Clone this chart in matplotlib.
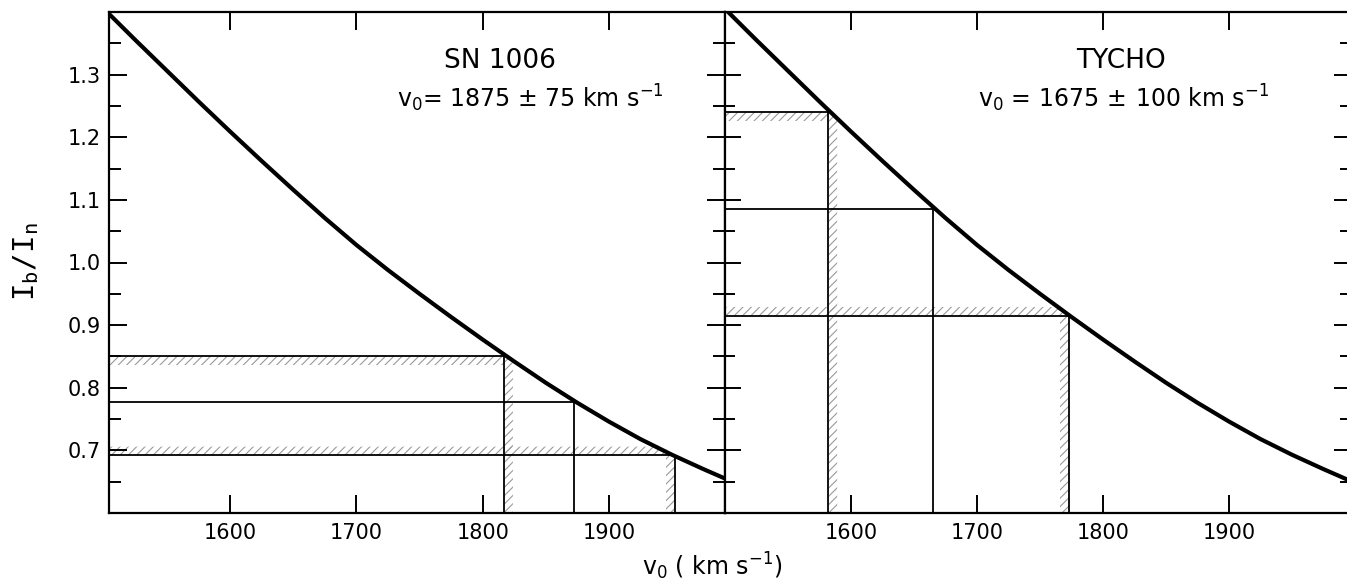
import numpy as np
import matplotlib
matplotlib.use("Agg")
import matplotlib.pyplot as plt
from matplotlib.ticker import FixedLocator, FormatStrFormatter

# ---------------- data ----------------
v_grid = [1500, 1525, 1550, 1575, 1600, 1625, 1650, 1675, 1700, 1725, 1750,
          1775, 1800, 1825, 1850, 1875, 1900, 1925, 1950, 1975, 2000]
ratio = [1.405, 1.355, 1.306, 1.257, 1.209, 1.162, 1.116, 1.071, 1.028, 0.988, 0.950,
         0.913, 0.877, 0.842, 0.808, 0.776, 0.746, 0.718, 0.693, 0.670, 0.648]

# SN 1006 : v0 = 1875 +/- 75  (low, central, high velocity and matching ratios)
sn_v = [1817, 1872, 1952]
sn_r = [0.851, 0.777, 0.692]
# TYCHO : v0 = 1675 +/- 100
ty_v = [1582, 1665, 1773]
ty_r = [1.240, 1.085, 0.915]

x_major = [1600, 1700, 1800, 1900]
y_major = [0.7, 0.8, 0.9, 1.0, 1.1, 1.2, 1.3]
y_minor = [0.65, 0.75, 0.85, 0.95, 1.05, 1.15, 1.25, 1.35]

panel_titles = ["SN 1006", "TYCHO"]
panel_subs = [r"v$_{\mathregular{0}}$= 1875 $\pm$ 75 km s$^{\mathregular{-1}}$",
              r"v$_{\mathregular{0}}$ = 1675$\,\pm\,$100 km s$^{\mathregular{-1}}$"]

# ---------------- style ----------------
plt.rcParams["font.family"] = ["DejaVu Sans"]
plt.rcParams["mathtext.fontset"] = "dejavusans"
plt.rcParams["hatch.linewidth"] = 0.8

W, H = 1347, 581
fig = plt.figure(figsize=(W / 100, H / 100), dpi=100)

def fx(px):
    return px / W

def fy(py):
    return (H - py) / H

ax1 = fig.add_axes([fx(109), fy(513), fx(725) - fx(109), fy(12) - fy(513)])
ax2 = fig.add_axes([fx(725), fy(513), fx(1350) - fx(725), fy(12) - fy(513)])

YMIN, YMAX = 0.6, 1.4
xlims = [(1504, 1992), (1500, 1996)]
DX, DY = 7, 0.014
HATCH_C = "#9a9a9a"

def hatch_region(ax, xs, y0, y1):
    ax.fill_between(xs, y0, y1, facecolor="none", edgecolor=HATCH_C,
                    hatch="////", linewidth=0, zorder=1)

panels = [
    (ax1, xlims[0], sn_v, sn_r, panel_titles[0], panel_subs[0], 1838, 13, 8.5),
    (ax2, xlims[1], ty_v, ty_r, panel_titles[1], panel_subs[1], 1816, 11.5, 7),
]
for ax, (xl, xr), vv, rr, title, sub, sub_x, major_len, minor_len in panels:
    ax.set_xlim(xl, xr)
    ax.set_ylim(YMIN, YMAX)

    # curve
    ax.plot(v_grid, ratio, color="black", lw=3.0, solid_capstyle="butt", zorder=4)

    v_lo, v_mid, v_hi = vv
    r_lo, r_mid, r_hi = rr

    # hatched uncertainty strips
    xs = np.linspace(xl, v_lo, 50)
    hatch_region(ax, xs, r_lo - DY, r_lo)
    xs = np.linspace(v_lo, v_lo + DX, 20)
    hatch_region(ax, xs, YMIN, np.minimum(np.interp(xs, v_grid, ratio), r_lo))
    xs = np.linspace(xl, v_hi, 200)
    hatch_region(ax, xs, r_hi, np.minimum(np.interp(xs, v_grid, ratio), r_hi + DY))
    xs = np.linspace(v_hi - DX, v_hi, 20)
    hatch_region(ax, xs, YMIN, r_hi)

    # construction lines
    for v, r in zip(vv, rr):
        ax.hlines(r, xl, v, color="black", lw=1.3, zorder=3)
        ax.vlines(v, YMIN, r, color="black", lw=1.3, zorder=3)

    # ticks
    ax.xaxis.set_major_locator(FixedLocator(x_major))
    ax.yaxis.set_major_locator(FixedLocator(y_major))
    ax.yaxis.set_minor_locator(FixedLocator(y_minor))
    ax.yaxis.set_major_formatter(FormatStrFormatter("%.1f"))
    ax.tick_params(axis="x", which="major", direction="in", top=True, bottom=True,
                   length=13, width=1.4, labelsize=15, pad=7)
    ax.tick_params(axis="y", which="major", direction="in", left=True, right=True,
                   length=major_len, width=1.4, labelsize=15, pad=6)
    ax.tick_params(axis="y", which="minor", direction="in", left=True, right=True,
                   length=minor_len, width=1.4)
    for s in ax.spines.values():
        s.set_linewidth(1.6)

    ax.text(1814, 1.321, title, ha="center", va="center", fontsize=19)
    ax.text(sub_x, 1.262, sub, ha="center", va="center", fontsize=17)

ax2.tick_params(axis="y", labelleft=False)

fig.text(fx(26), fy(262), r"$\mathtt{I_b/I_n}$", rotation=90, ha="center",
         va="center", fontsize=21)
fig.text(fx(712), fy(566), r"v$_{\mathregular{0}}$ ( km s$^{\mathregular{-1}}$)",
         ha="center", va="center", fontsize=17)

fig.savefig("out.png", dpi=100)
